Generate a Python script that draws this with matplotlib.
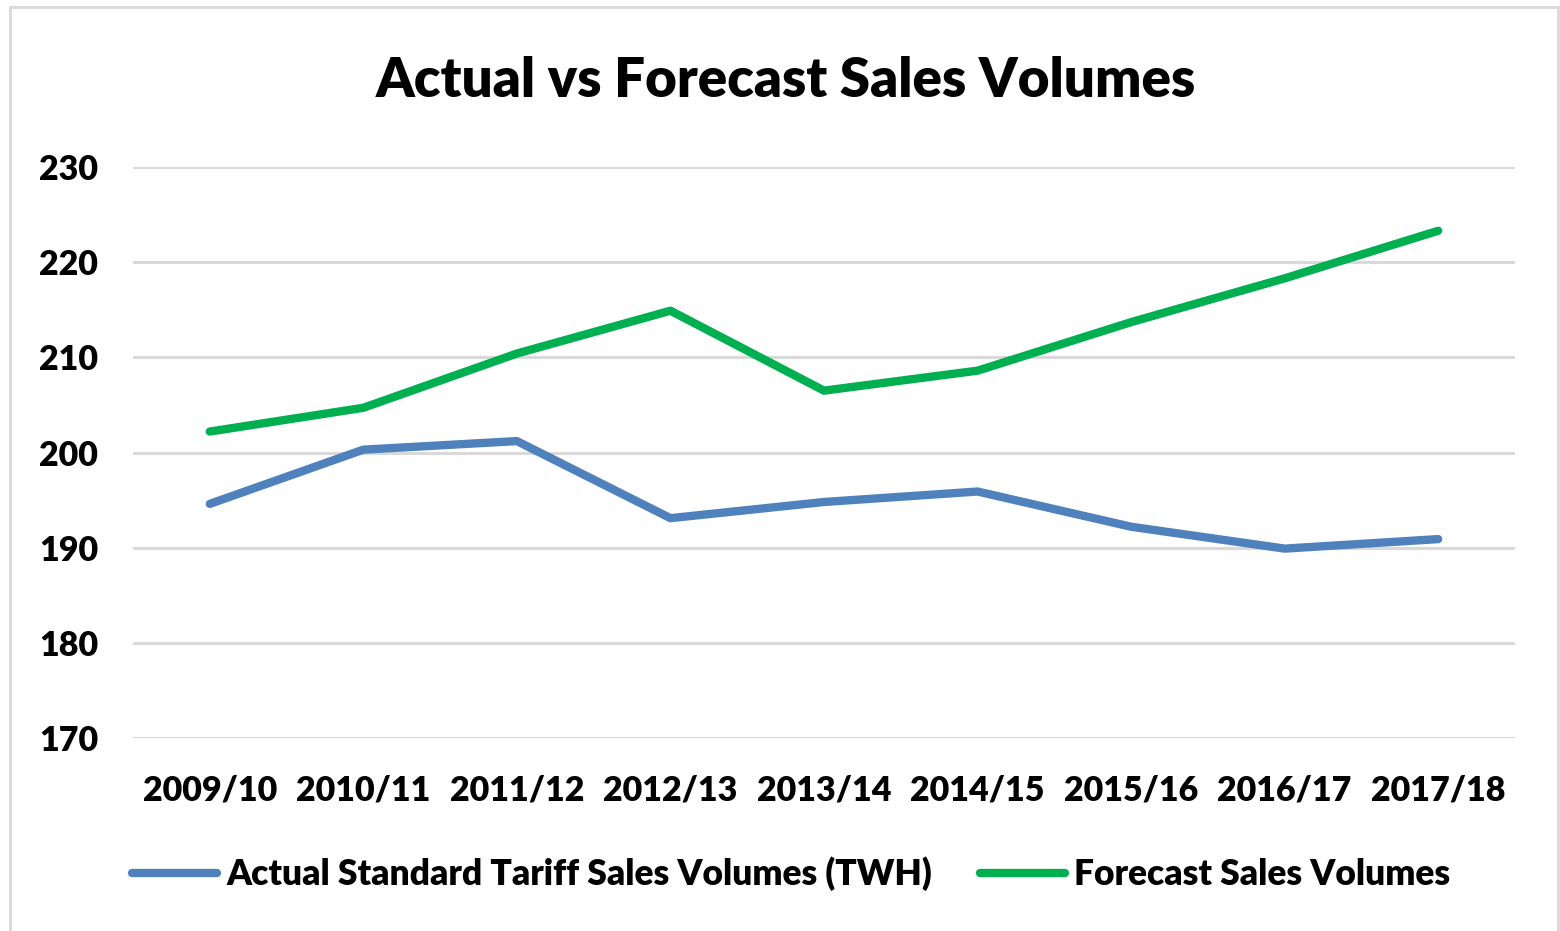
import matplotlib

matplotlib.use("Agg")
import matplotlib.pyplot as plt
from matplotlib.patches import Rectangle

plt.rcParams["font.family"] = ["Lato", "DejaVu Sans"]
plt.rcParams["font.weight"] = "heavy"

years = ["2009/10", "2010/11", "2011/12", "2012/13", "2013/14",
         "2014/15", "2015/16", "2016/17", "2017/18"]
actual = [194.6, 200.3, 201.2, 193.1, 194.8, 195.9, 192.2, 189.9, 190.9]
forecast = [202.2, 204.7, 210.4, 214.9, 206.5, 208.6, 213.7, 218.3, 223.3]
y_ticks = [170, 180, 190, 200, 210, 220, 230]

fig = plt.figure(figsize=(15.6, 9.31), dpi=100)
fig.patches.append(Rectangle((10 / 1560, -0.05), 1548 / 1560, 1.05 - 7 / 931,
                             transform=fig.transFigure, fill=False,
                             edgecolor="#d9d9d9", linewidth=2))

ax = fig.add_axes([133 / 1560, 1 - 738 / 931, 1382 / 1560, 571 / 931])
x = list(range(len(years)))
ax.plot(x, actual, color="#4F81BD", linewidth=6, solid_capstyle="round",
        solid_joinstyle="round", label="Actual Standard Tariff Sales Volumes (TWH)")
ax.plot(x, forecast, color="#00B050", linewidth=6, solid_capstyle="round",
        solid_joinstyle="round", label="Forecast Sales Volumes")

ax.set_xlim(-0.5, len(years) - 0.5)
ax.set_ylim(170, 230)
ax.set_yticks(y_ticks)
ax.set_xticks(x)
ax.set_xticklabels(years)
ax.tick_params(axis="both", length=0, labelsize=24.5)
ax.tick_params(axis="y", pad=25)
ax.tick_params(axis="x", pad=26)
ax.grid(axis="y", color="#d9d9d9", linewidth=2.2)
ax.set_axisbelow(True)
for s in ax.spines.values():
    s.set_visible(False)

fig.text(786 / 1560, 1 - 81 / 931, "Actual vs Forecast Sales Volumes", ha="center",
         va="center", fontsize=39.3)

fig.legend(loc="center", bbox_to_anchor=(791 / 1560, 1 - 874 / 931), ncol=2,
           frameon=False, fontsize=25.5, handlelength=2.4, handletextpad=0.25,
           columnspacing=1.35)

fig.savefig("out.png", dpi=100)
